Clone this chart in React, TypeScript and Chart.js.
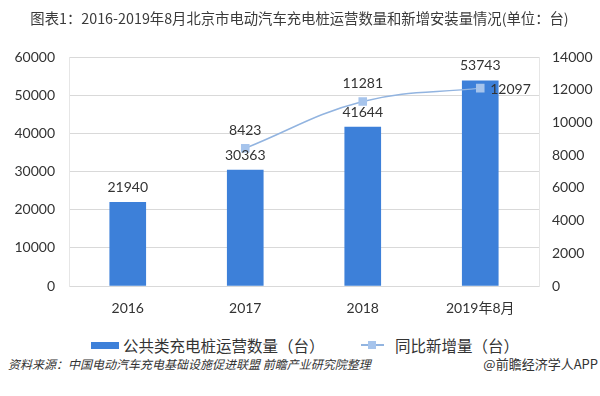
import React, { useEffect, useLayoutEffect, useRef } from "react";
import { Chart, registerables } from "chart.js";

Chart.register(...registerables);

const categories = ["2016", "2017", "2018", "2019年8月"];
const operatingCount = [21940, 30363, 41644, 53743];
const newInstalled = [null, 8423, 11281, 12097];
const leftTicks = { min: 0, max: 60000, step: 10000 };
const rightTicks = { min: 0, max: 14000, step: 2000 };

const BAR_COLOR = "#3d80d9";
const LINE_COLOR = "#92b4e0";
const POINT_COLOR = "#a6c4ec";
const TEXT = "#333333";
const NUM_FONT = "Lato, 'Noto Sans CJK SC', sans-serif";
const CJK_FONT = "'Noto Sans CJK SC', 'Noto Sans', sans-serif";

const labelPlugin = {
  id: "valueLabels",
  afterDatasetsDraw(chart: any) {
    const ctx = chart.ctx;
    ctx.save();
    ctx.font = `14px ${NUM_FONT}`;
    ctx.fillStyle = TEXT;
    ctx.textBaseline = "middle";
    ctx.textAlign = "center";
    const barMeta = chart.getDatasetMeta(0);
    barMeta.data.forEach((el: any, i: number) => {
      ctx.fillText(String(operatingCount[i]), el.x, el.y - 15);
    });
    const lineMeta = chart.getDatasetMeta(1);
    lineMeta.data.forEach((el: any, i: number) => {
      const v = newInstalled[i];
      if (v == null) return;
      if (i === newInstalled.length - 1) {
        ctx.textAlign = "left";
        ctx.fillText(String(v), el.x + 10, el.y + 1);
        ctx.textAlign = "center";
      } else {
        ctx.fillText(String(v), el.x, el.y - 18);
      }
    });
    ctx.restore();
  },
};

const plain = (v: any) => String(v);

export default function App() {
  const ref = useRef<HTMLCanvasElement | null>(null);
  const titleRef = useRef<HTMLSpanElement | null>(null);

  useLayoutEffect(() => {
    const el = titleRef.current;
    if (!el) return;
    const w = el.getBoundingClientRect().width;
    if (w > 0) {
      el.style.fontSize = `${(14.3 * 539) / w}px`;
    }
  }, []);

  useEffect(() => {
    if (!ref.current) return;
    const chart = new Chart(ref.current, {
      type: "bar",
      data: {
        labels: categories,
        datasets: [
          {
            type: "bar",
            label: "公共类充电桩运营数量（台）",
            data: operatingCount,
            backgroundColor: BAR_COLOR,
            barThickness: 36,
            yAxisID: "y",
            order: 1,
          },
          {
            type: "line",
            label: "同比新增量（台）",
            data: newInstalled as any,
            borderColor: LINE_COLOR,
            borderWidth: 1.5,
            backgroundColor: POINT_COLOR,
            pointStyle: "rect",
            pointRadius: 5,
            pointBorderColor: POINT_COLOR,
            pointBackgroundColor: POINT_COLOR,
            tension: 0.4,
            yAxisID: "y1",
            order: 0,
          } as any,
        ],
      },
      options: {
        responsive: false,
        animation: false,
        devicePixelRatio: 1,
        layout: { padding: { top: 57, left: 0, right: 0, bottom: 0 } },
        plugins: {
          legend: { display: false },
          tooltip: { enabled: false },
          title: { display: false },
        },
        scales: {
          x: {
            grid: { display: false },
            border: { display: true, color: "#d9d9d9" },
            ticks: {
              color: TEXT,
              font: { size: 14, family: NUM_FONT },
              padding: 6,
            },
            afterFit(scale: any) {
              scale.height = 34;
            },
          },
          y: {
            position: "left",
            min: leftTicks.min,
            max: leftTicks.max,
            ticks: {
              stepSize: leftTicks.step,
              color: TEXT,
              font: { size: 14, family: NUM_FONT },
              padding: 14,
              callback: plain,
            },
            grid: { color: "#d9d9d9", drawTicks: false },
            border: { display: true, color: "#e6e6e6" },
            afterFit(scale: any) {
              scale.width = 69;
            },
          },
          y1: {
            position: "right",
            min: rightTicks.min,
            max: rightTicks.max,
            ticks: {
              stepSize: rightTicks.step,
              color: TEXT,
              font: { size: 14, family: NUM_FONT },
              padding: 13,
              callback: plain,
            },
            grid: { display: false, drawTicks: false },
            border: { display: true, color: "#e6e6e6" },
            afterFit(scale: any) {
              scale.width = 61;
            },
          },
        },
      },
      plugins: [labelPlugin],
    });
    return () => chart.destroy();
  }, []);

  return (
    <div
      style={{
        position: "fixed",
        left: 0,
        top: 0,
        width: 600,
        height: 396,
        background: "#fff",
        overflow: "hidden",
      }}
    >
      <canvas
        ref={ref}
        width={600}
        height={320}
        style={{ position: "absolute", left: 0, top: 0, width: 600, height: 320 }}
      />
      <div
        style={{
          position: "absolute",
          left: 0,
          top: 7,
          width: 599,
          textAlign: "center",
          fontFamily: CJK_FONT,
          color: "#3a3a3a",
          whiteSpace: "nowrap",
          lineHeight: "20px",
        }}
      >
        <span ref={titleRef} style={{ fontSize: 14.3, display: "inline-block" }}>
          图表1：2016-2019年8月北京市电动汽车充电桩运营数量和新增安装量情况(单位：台)
        </span>
      </div>
      <div
        style={{
          position: "absolute",
          left: 0,
          top: 334,
          width: 600,
          height: 22,
          fontFamily: CJK_FONT,
          fontSize: 15.5,
          color: TEXT,
          whiteSpace: "nowrap",
        }}
      >
        <span style={{ position: "absolute", left: 91, top: 8, width: 28, height: 7, background: BAR_COLOR }} />
        <span style={{ position: "absolute", left: 123, top: 0, lineHeight: "22px" }}>公共类充电桩运营数量（台）</span>
        <span style={{ position: "absolute", left: 361, top: 10, width: 23, height: 1.5, background: LINE_COLOR }} />
        <span style={{ position: "absolute", left: 368, top: 7, width: 8, height: 8, background: POINT_COLOR }} />
        <span style={{ position: "absolute", left: 395, top: 0, lineHeight: "22px" }}>同比新增量（台）</span>
      </div>
      <div
        style={{
          position: "absolute",
          left: 8,
          top: 356,
          fontFamily: CJK_FONT,
          fontSize: 12,
          fontStyle: "italic",
          color: TEXT,
          whiteSpace: "nowrap",
          lineHeight: "16px",
        }}
      >
        资料来源：中国电动汽车充电基础设施促进联盟 前瞻产业研究院整理
      </div>
      <div
        style={{
          position: "absolute",
          right: 2,
          top: 355,
          fontFamily: CJK_FONT,
          fontSize: 13,
          color: TEXT,
          whiteSpace: "nowrap",
          lineHeight: "18px",
        }}
      >
        @前瞻经济学人APP
      </div>
    </div>
  );
}
